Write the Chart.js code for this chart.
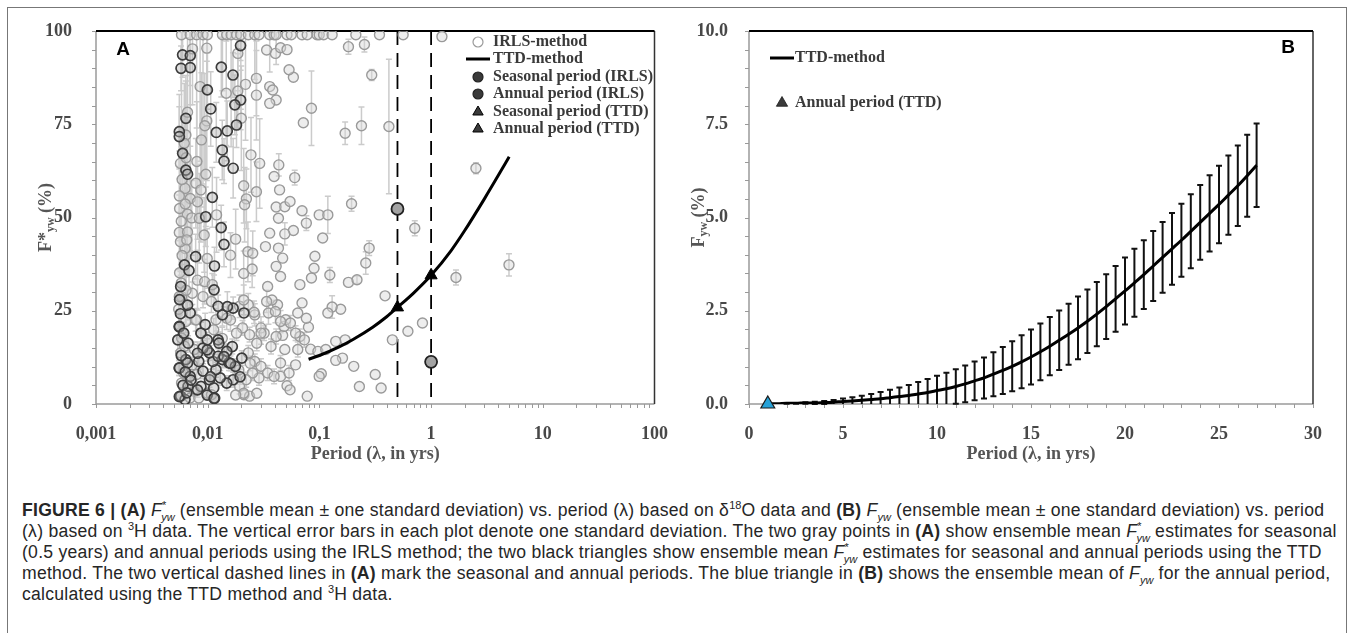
<!DOCTYPE html>
<html>
<head>
<meta charset="utf-8">
<script src="https://cdn.jsdelivr.net/npm/chart.js@4.4.0/dist/chart.umd.min.js"></script>
<style>
body { margin: 0; background: #fff; width: 1355px; height: 633px; overflow: hidden; position: relative; }
#frame { position: absolute; left: 7px; top: 7px; width: 1338px; height: 640px; border: 1.5px solid #777; pointer-events: none; }
canvas { position: absolute; top: 0; }
#chartA { left: 0; }
#chartB { left: 680px; }
#caption { position: absolute; left: 22px; top: 500px; font-family: "Liberation Sans", Arial, sans-serif; font-size: 17.6px; letter-spacing: 0.25px; line-height: 21px; color: #262626; white-space: nowrap; }
#caption sup, #caption sub { font-size: 11px; line-height: 0; letter-spacing: 0; }
</style>
</head>
<body>
<canvas id="chartA" width="680" height="470"></canvas>
<canvas id="chartB" width="675" height="470"></canvas>
<div id="caption">
<div><b>FIGURE 6 | (A)</b> <i>F</i><sup>*</sup><sub style="margin-left:-5px"><i>yw</i></sub> (ensemble mean ± one standard deviation) vs. period (λ) based on δ<sup>18</sup>O data and <b>(B)</b> <i>F<sub>yw</sub></i> (ensemble mean ± one standard deviation) vs. period</div>
<div>(λ) based on <sup>3</sup>H data. The vertical error bars in each plot denote one standard deviation. The two gray points in <b>(A)</b> show ensemble mean <i>F</i><sup>*</sup><sub style="margin-left:-5px"><i>yw</i></sub> estimates for seasonal</div>
<div>(0.5 years) and annual periods using the IRLS method; the two black triangles show ensemble mean <i>F</i><sup>*</sup><sub style="margin-left:-5px"><i>yw</i></sub> estimates for seasonal and annual periods using the TTD</div>
<div>method. The two vertical dashed lines in <b>(A)</b> mark the seasonal and annual periods. The blue triangle in <b>(B)</b> shows the ensemble mean of <i>F<sub>yw</sub></i> for the annual period,</div>
<div>calculated using the TTD method and <sup>3</sup>H data.</div>
</div>
<div id="frame"></div>
<script>
// ---- panel A: F*yw vs period, log x ----
const xTicksA = [0.001, 0.01, 0.1, 1, 10, 100];
const xTickLabelsA = ['0,001', '0,01', '0,1', '1', '10', '100'];
const yTicksA = [0, 25, 50, 75, 100];
const periodMarks = [0.5, 1]; // seasonal and annual period

// IRLS ensemble means: [period (yrs), F*yw (%), sd]
const irlsLight = [
  [0.00583,99,30],[0.00697,99,45],[0.00796,99,25],[0.00908,99,40],[0.00993,99,20],[0.01355,99,15],[0.0148,99,0],
  [0.0162,99,30],[0.01815,99,0],[0.0198,99,20],[0.0231,99,0],[0.0264,99,12],[0.0288,99,0],[0.0359,99,10],
  [0.0393,99,0],[0.041,99,8],[0.0513,99,0],[0.056,99,0],[0.0699,99,0],[0.0778,99,0],[0.0953,99,0],
  [0.0996,99,0],[0.109,99,0],[0.13,99,0],[0.212,99,0],[0.345,99,0],[0.562,99,0],[1.25,98.5,0],
  [0.182,95.8,2],[0.253,96.4,2],[0.294,88.2,1.5],[0.17,72.6,3],[0.238,74.6,5],[0.419,74.4,18],
  [2.52,63.2,1.5],[0.194,53.7,2],[0.714,47.1,2],[0.279,41.8,2],[0.26,37.8,3],[4.98,37.3,3],[1.67,33.9,2],
  [0.182,32.6,0],[0.217,33.3,1],[0.387,29,0],[0.837,21.7,0],[0.62,19.5,0],[0.45,17.2,0],[0.203,10.1,0],
  [0.316,7.9,0],[0.228,4.7,0],[0.357,4.3,0],[0.161,12.3,0],[0.14,11.7,0],[0.17,17.2,0],[0.14,16.8,0],
  [0.155,25.4,0],[0.13,26,3],[0.119,24.4,0],[0.124,34.6,2],[0.0996,50.7,0],[0.119,50.7,5],[0.107,44.5,0],
  [0.0764,48.5,2],[0.0699,51.8,0],[0.0849,79.3,10],[0.0718,75.4,0],[0.0585,87.6,0],[0.0535,89.6,0],
  [0.0601,60.7,2],[0.0585,46.5,0],[0.0912,39.6,0],[0.0895,36.4,0],[0.0849,33.8,0],[0.0669,32,0],
  [0.0798,20.6,0],[0.0764,23,0],[0.0699,27.1,0],[0.064,24.4,0],[0.0834,14.7,0],[0.097,14.1,0],
  [0.114,14.6,0],[0.104,8.1,0],[0.0996,7.4,0],[0.0778,2.1,0],[0.0513,4.9,0],[0.0546,3.8,0],[0.0612,10.5,0],
  [0.049,14.6,0],[0.0449,7.4,0],[0.0469,18.4,0],[0.0482,20.8,0],[0.0499,22.6,0],[0.0422,26.6,0],
  [0.0376,27.9,0],[0.0344,31.5,0],[0.0449,34.2,0],[0.041,36.9,0],[0.0469,39.1,0],[0.043,41.8,0],
  [0.0329,42.2,0],[0.0359,45.8,0],[0.049,45.6,3],[0.043,49.8,0],[0.041,52.8,0],[0.049,52.9,0],
  [0.0546,54.3,0],[0.044,57.4,0],[0.0433,64.1,3],[0.0393,61,0],[0.0359,85.1,0],[0.0382,84.2,0],
  [0.041,81.5,0],[0.0359,80.6,0],[0.0337,94.9,0],[0.0404,94,0],[0.0449,95.5,0],[0.0513,95,0],
  [0.00731,95.2,15],[0.00982,95.4,12],[0.01862,94,10],[0.0273,87.3,10],[0.0273,82.8,12],[0.0218,85.7,15],
  [0.00855,85.1,20],[0.01466,83.3,14],[0.0186,83.9,10],[0.0066,78.2,20],[0.02,76.6,14],[0.00982,75.9,16],
  [0.00942,74.6,14],[0.00638,72.1,16],[0.00617,69.9,16],[0.00879,70.8,18],[0.0244,66.8,10],[0.0292,64.5,12],
  [0.008,65,16],[0.00962,61.6,14],[0.00627,57.8,14],[0.00783,59.2,12],[0.00869,57.4,14],[0.00557,55.8,12],
  [0.00698,55.1,14],[0.00811,54.2,10],[0.021,58.5,10],[0.0222,55,8],[0.0214,53.4,10],[0.0273,56.9,8],
  [0.0066,50.9,12],[0.0072,49.9,10],[0.0084,49.8,12],[0.012,50.7,10],[0.00557,46,10],[0.0066,46.1,12],
  [0.0093,45.3,10],[0.0178,44.2,8],[0.0229,40.8,8],[0.0253,40.4,6],[0.00627,41.7,10],[0.0099,39,8],
  [0.016,39.9,6],[0.021,35,6],[0.025,36.2,5],[0.0081,33.2,8],[0.0094,32.8,6],
  [0.011,32,3],[0.00583,28.8,3],[0.00728,29.7,3],[0.00908,28.8,3],[0.0108,27.5,3],[0.0148,23,3],
  [0.0193,26.2,3],[0.0231,26.6,3],[0.0264,23.9,3],[0.03,20.4,3],[0.0337,27.5,3],[0.035,24.4,3],
  [0.0404,24.8,3],[0.0449,22.1,3],[0.041,18.1,2],[0.0369,15.4,2],[0.032,19,2],[0.0275,16.3,2],
  [0.0237,18.6,2],[0.0205,20.4,2],[0.0181,19,2],[0.0231,13.7,2],[0.0264,11.4,2],[0.03,10.1,2],
  [0.0344,8.3,2],[0.0288,7,2],[0.0252,8.3,2],[0.0221,6.5,2],[0.0193,4.7,2],[0.0211,2.5,0],[0.0237,2.1,0],
  [0.0275,2.9,0],[0.0393,7.4,2],[0.0449,11,2],[0.0535,8.3,2],[0.064,14.6,2],[0.0669,18.1,2],
  [0.0734,17.2,2],[0.0612,19,2],[0.055,21.7,2],[0.0087,19,3],[0.00796,22.6,3],[0.00637,22.1,3],
  [0.00583,17.7,3],[0.0076,14.6,2],[0.00573,13.7,2],[0.00728,10.5,2],[0.0061,8.3,2],[0.00796,7.9,2],
  [0.0099,2.9,0],[0.0076,3.4,0],[0.00583,5.6,0],[0.00697,1.6,0],[0.00832,1.6,0],[0.0108,2.5,0],
  [0.01186,22.6,3],[0.01132,19.9,3],[0.0135,17.6,3],[0.00557,28.8,4],[0.0055,25.4,4],[0.0078,22.5,3],
  [0.0062,15.5,3],[0.019,9.1,2],[0.024,10.9,2],[0.021,2.9,0],[0.0178,2.4,0],[0.016,22.5,3],
  [0.021,27.9,4],[0.026,24.6,3],[0.03,19,3],
  [0.0057,64.5,10],[0.0059,60.2,10],[0.0056,52.4,8],[0.0058,49.0,8],[0.0057,43.5,8],[0.0059,39.8,6],
  [0.0056,35.2,5],[0.0058,32.4,5],[0.0064,66.0,10],[0.0063,53.6,8],[0.0065,44.0,8],[0.0064,30.5,5]
];
const irlsDark = [
  [0.00596,93.6,6],[0.00698,93.4,8],[0.00577,90,6],[0.00698,90.2,10],[0.01324,90.3,8],[0.01683,88.2,6],
  [0.01968,96.1,4],[0.00993,84.2,10],[0.0197,81.5,8],[0.0175,80.2,8],[0.01064,79.1,10],[0.00638,76.6,10],
  [0.0181,74.8,6],[0.01194,72.8,8],[0.01497,73.2,8],[0.00557,73,10],[0.00557,71.7,8],[0.00596,67.2,10],
  [0.0135,68.1,8],[0.014,65.1,6],[0.0169,63.2,8],[0.00638,62.7,10],[0.0066,61.6,8],[0.011,55.4,8],
  [0.0096,50.2,8],[0.0132,47.3,6],[0.014,42.8,6],[0.0078,39.5,6],[0.0062,37.3,6],[0.0068,35.8,5],
  [0.0115,37,5],[0.00573,31.5,3],[0.0124,26.2,3],[0.01355,23.9,3],[0.0169,25.7,3],[0.0211,24.4,3],
  [0.0166,15.4,2],[0.0148,14.1,2],[0.01355,11.9,2],[0.0155,11,2],[0.0177,10.1,2],[0.0202,12.3,2],
  [0.0169,6.5,2],[0.0148,5.6,2],[0.01294,7,2],[0.01186,9.2,2],[0.01114,11.4,2],[0.01038,13.7,2],
  [0.00908,15,2],[0.0099,17.2,2],[0.00949,21.3,3],[0.00697,24.4,3],[0.00557,20.8,3],[0.00667,16.3,2],
  [0.00637,11.9,2],[0.00832,11.4,2],[0.00557,9.6,2],[0.00697,7.4,2],[0.00908,8.8,2],[0.01038,6.5,2],
  [0.01132,4.3,0],[0.0087,4.7,0],[0.00667,4.7,0],[0.00573,2.1,0],[0.00627,1.2,0],[0.01154,1.6,0],
  [0.0124,12.8,2],[0.0124,17.2,2],[0.00557,20.7,3],[0.0054,17.2,3],[0.00557,9.7,2],[0.00557,2,0],
  [0.006,5,2],[0.00708,6.4,2],[0.0081,3.8,2],[0.0099,2.4,0],[0.0114,1.5,0],[0.0106,7.3,2],[0.0126,16.3,3],
  [0.0114,30.6,4],[0.0066,26.5,4],[0.0087,19,3],[0.0099,14.5,3],[0.0066,11,2],[0.0081,13.6,3],
  [0.016,10.9,2],[0.0195,7.3,2],[0.014,12.7,3],[0.015,26.1,4],
  [0.0056,28.0,4],[0.0057,24.2,3],[0.0058,13.0,2],[0.0063,8.6,2],[0.0061,19.0,3],[0.0065,3.0,0]
];

// TTD ensemble mean curve (panel A)
const ttdPeriodA = [0.08, 0.1, 0.15, 0.2, 0.3, 0.4, 0.5, 0.7, 1, 1.5, 2, 3, 4, 5];
const ttdFywA = [12.0, 13.0, 15.3, 17.3, 20.6, 23.4, 25.9, 29.8, 34.5, 41.0, 46.5, 55.0, 61.3, 66.3];

const seasonalIrls = [0.5, 52.3];
const annualIrls = [1, 11.3];
const seasonalTtd = [0.5, 25.9];
const annualTtd = [1, 34.5];

// ---- panel B: Fyw vs period, linear x ----
const yTicksB = [0, 2.5, 5, 7.5, 10];
const periodB = [1,1.5,2,2.5,3,3.5,4,4.5,5,5.5,6,6.5,7,7.5,8,8.5,9,9.5,10,10.5,11,11.5,12,12.5,13,13.5,
  14,14.5,15,15.5,16,16.5,17,17.5,18,18.5,19,19.5,20,20.5,21,21.5,22,22.5,23,23.5,24,24.5,25,25.5,26,26.5,27];
const fywB = [0.01,0.01,0.02,0.02,0.03,0.03,0.04,0.05,0.07,0.08,0.1,0.12,0.14,0.17,0.2,0.23,0.27,0.31,0.36,0.41,
  0.47,0.54,0.62,0.7,0.8,0.9,1.01,1.13,1.26,1.4,1.55,1.71,1.87,2.04,2.22,2.41,2.61,2.82,3.03,3.25,
  3.47,3.7,3.93,4.16,4.39,4.63,4.87,5.11,5.35,5.6,5.85,6.12,6.4];
const sdB = [0,0,0.01,0.01,0.02,0.03,0.04,0.06,0.08,0.1,0.12,0.15,0.18,0.21,0.24,0.28,0.32,0.36,0.4,0.43,
  0.46,0.49,0.52,0.55,0.59,0.63,0.67,0.71,0.74,0.76,0.78,0.8,0.82,0.84,0.85,0.86,0.87,0.88,0.9,0.91,
  0.92,0.94,0.95,0.96,0.98,0.99,1.0,1.02,1.04,1.06,1.08,1.1,1.12];
const annualTtdB = [1, 0];

const SERIF = '"Liberation Serif", "Times New Roman", serif';
const SANS = '"Liberation Sans", Arial, sans-serif';
Chart.defaults.font.family = SERIF;

const pts = arr => arr.map(p => ({ x: p[0], y: p[1] }));

// error bars, dashed period lines, plot box, minor ticks, titles, legend
const panelDecor = {
  id: 'panelDecor',
  beforeDatasetsDraw(chart, args, o) {
    const { ctx, chartArea: a, scales: { x, y } } = chart;
    ctx.save();
    // box
    ctx.lineWidth = 1.5;
    ctx.strokeStyle = '#9a9a9a';
    ctx.beginPath(); ctx.moveTo(a.left, a.top); ctx.lineTo(a.left, a.bottom); ctx.lineTo(a.right, a.bottom); ctx.stroke();
    ctx.strokeStyle = '#333';
    ctx.beginPath(); ctx.moveTo(a.right, a.bottom); ctx.lineTo(a.right, a.top); ctx.stroke();
    ctx.strokeStyle = '#000'; ctx.lineWidth = 2.2;
    ctx.beginPath(); ctx.moveTo(a.left, a.top); ctx.lineTo(a.right, a.top); ctx.stroke();
    // minor ticks
    ctx.strokeStyle = '#999'; ctx.lineWidth = 1;
    (o.xMinor || []).forEach(v => {
      const px = Math.round(x.getPixelForValue(v)) + 0.5;
      ctx.beginPath(); ctx.moveTo(px, a.bottom); ctx.lineTo(px, a.bottom + 4); ctx.stroke();
    });
    (o.yMinor || []).forEach(v => {
      const py = Math.round(y.getPixelForValue(v)) + 0.5;
      ctx.beginPath(); ctx.moveTo(a.left - 4, py); ctx.lineTo(a.left, py); ctx.stroke();
    });
    // dashed period lines
    ctx.strokeStyle = '#000'; ctx.lineWidth = 1.8; ctx.setLineDash([14, 8]);
    (o.dashed || []).forEach(v => {
      const px = x.getPixelForValue(v);
      ctx.beginPath(); ctx.moveTo(px, a.top); ctx.lineTo(px, a.bottom); ctx.stroke();
    });
    ctx.setLineDash([]);
    // error bars
    chart.data.datasets.forEach(ds => {
      if (!ds.sd) return;
      ctx.strokeStyle = ds.errColor; ctx.lineWidth = ds.errWidth;
      ds.data.forEach((p, i) => {
        const s = ds.sd[i];
        if (!s) return;
        const px = x.getPixelForValue(p.x);
        const t = y.getPixelForValue(p.y + s), b = y.getPixelForValue(p.y - s);
        const top = Math.max(t, a.top), bot = Math.min(b, a.bottom);
        ctx.beginPath(); ctx.moveTo(px, top); ctx.lineTo(px, bot);
        if (t >= a.top) { ctx.moveTo(px - 3, t); ctx.lineTo(px + 3, t); }
        if (b <= a.bottom) { ctx.moveTo(px - 3, b); ctx.lineTo(px + 3, b); }
        ctx.stroke();
      });
    });
    ctx.restore();
  },
  afterDraw(chart, args, o) {
    const { ctx, chartArea: a } = chart;
    ctx.save();
    ctx.textBaseline = 'middle';
    // panel letter
    ctx.fillStyle = '#000';
    ctx.font = 'bold 19px ' + SANS;
    ctx.textAlign = 'center';
    ctx.fillText(o.letter[0], o.letter[1], o.letter[2]);
    // x title
    ctx.fillStyle = '#555';
    ctx.font = 'bold 18px ' + SERIF;
    ctx.fillText('Period (λ, in yrs)', (a.left + a.right) / 2, 454);
    // y title, rotated, with subscript
    const big = 'bold 18px ' + SERIF, small = 'bold 12px ' + SERIF;
    const parts = [[o.yMain, big, 0], ['yw', small, 5], [' (%)', big, 0]];
    let w = 0;
    parts.forEach(p => { ctx.font = p[1]; w += ctx.measureText(p[0]).width; });
    ctx.translate(o.yTitleX, (a.top + a.bottom) / 2);
    ctx.rotate(-Math.PI / 2);
    ctx.textAlign = 'left';
    let cx = -w / 2;
    parts.forEach(p => { ctx.font = p[1]; ctx.fillText(p[0], cx, p[2]); cx += ctx.measureText(p[0]).width; });
    ctx.setTransform(1, 0, 0, 1, 0, 0);
    // legend
    ctx.font = 'bold 16px ' + SERIF;
    ctx.textAlign = 'left';
    o.legend.forEach(item => {
      const ds = chart.data.datasets[item.ds];
      ctx.fillStyle = '#3a3a3a';
      ctx.fillText(ds.label, o.legendTextX, item.y);
      if (ds.showLine) {
        ctx.strokeStyle = '#000'; ctx.lineWidth = 3;
        ctx.beginPath(); ctx.moveTo(item.x - 12, item.y); ctx.lineTo(item.x + 12, item.y); ctx.stroke();
      } else {
        ctx.fillStyle = item.fill || ds.pointBackgroundColor;
        ctx.strokeStyle = ds.pointBorderColor;
        ctx.lineWidth = item.bw;
        Chart.helpers.drawPoint(ctx, { pointStyle: ds.pointStyle, rotation: 0, radius: item.r, borderWidth: item.bw }, item.x, item.y);
      }
    });
    ctx.restore();
  }
};

const tickFont = { family: SERIF, size: 18, weight: 'bold' };

// minor tick positions
const logMinor = [];
xTicksA.slice(0, -1).forEach(d => { for (let k = 1; k < 10; k++) logMinor.push(d * k); });
const linMinorYA = [];
for (let v = 0; v <= 100; v += 5) linMinorYA.push(v);
const linMinorX = [], linMinorY = [];
for (let v = 0; v <= 30; v++) linMinorX.push(v);
for (let v = 0; v <= 10; v += 0.5) linMinorY.push(v);

new Chart(document.getElementById('chartA'), {
  type: 'scatter',
  data: {
    datasets: [
      { label: 'IRLS-method', data: pts(irlsLight), sd: irlsLight.map(p => p[2]), errColor: '#cbcbcb', errWidth: 1.5,
        pointRadius: 5, pointBackgroundColor: 'rgba(214,214,214,0.45)', pointBorderColor: '#9a9a9a', pointBorderWidth: 1.4, order: 6 },
      { label: '', data: pts(irlsDark), sd: irlsDark.map(p => p[2]), errColor: '#cbcbcb', errWidth: 1.5,
        pointRadius: 5, pointBackgroundColor: 'rgba(175,175,175,0.4)', pointBorderColor: '#3c3c3c', pointBorderWidth: 1.7, order: 5 },
      { label: 'TTD-method', data: ttdPeriodA.map((v, i) => ({ x: v, y: ttdFywA[i] })), showLine: true,
        borderColor: '#000', borderWidth: 3, pointRadius: 0, cubicInterpolationMode: 'monotone', order: 4 },
      { label: 'Seasonal period (IRLS)', data: [{ x: seasonalIrls[0], y: seasonalIrls[1] }],
        pointRadius: 6, pointBackgroundColor: '#a3a3a3', pointBorderColor: '#222', pointBorderWidth: 1.8, order: 1 },
      { label: 'Annual period (IRLS)', data: [{ x: annualIrls[0], y: annualIrls[1] }],
        pointRadius: 6, pointBackgroundColor: '#a3a3a3', pointBorderColor: '#222', pointBorderWidth: 1.8, order: 1 },
      { label: 'Seasonal period (TTD)', data: [{ x: seasonalTtd[0], y: seasonalTtd[1] }], pointStyle: 'triangle',
        pointRadius: 7, pointBackgroundColor: '#000', pointBorderColor: '#000', pointBorderWidth: 1, order: 2 },
      { label: 'Annual period (TTD)', data: [{ x: annualTtd[0], y: annualTtd[1] }], pointStyle: 'triangle',
        pointRadius: 7, pointBackgroundColor: '#000', pointBorderColor: '#000', pointBorderWidth: 1, order: 2 }
    ]
  },
  options: {
    responsive: false, animation: false, devicePixelRatio: 1,
    layout: { padding: { left: 0, top: 31, right: 21, bottom: 0 } },
    plugins: {
      legend: { display: false }, tooltip: { enabled: false },
      panelDecor: {
        letter: ['A', 123, 50], yMain: 'F*', yTitleX: 46, xMinor: logMinor, yMinor: linMinorYA, dashed: periodMarks,
        legendTextX: 493,
        legend: [
          { ds: 0, x: 478, y: 42, r: 5, bw: 1.2, fill: '#fff' },
          { ds: 2, x: 478, y: 59 },
          { ds: 3, x: 478, y: 77, r: 5, bw: 1.2 },
          { ds: 4, x: 478, y: 94, r: 5, bw: 1.2 },
          { ds: 5, x: 478, y: 112, r: 6, bw: 1 },
          { ds: 6, x: 478, y: 129, r: 6, bw: 1 }
        ]
      }
    },
    scales: {
      x: {
        type: 'logarithmic', min: 0.001, max: 100,
        afterBuildTicks: s => { s.ticks = xTicksA.map(v => ({ value: v })); },
        afterFit: s => { s.height = 66; },
        grid: { display: false }, border: { display: false },
        ticks: { autoSkip: false, maxRotation: 0, padding: 12, color: '#484848', font: tickFont,
          callback: (v, i) => xTickLabelsA[i] }
      },
      y: {
        min: 0, max: 100,
        afterBuildTicks: s => { s.ticks = yTicksA.map(v => ({ value: v })); },
        afterFit: s => { s.width = 96; },
        grid: { display: false }, border: { display: false },
        ticks: { padding: 16, color: '#484848', font: tickFont }
      }
    }
  },
  plugins: [panelDecor]
});

new Chart(document.getElementById('chartB'), {
  type: 'scatter',
  data: {
    datasets: [
      { label: 'TTD-method', data: periodB.map((v, i) => ({ x: v, y: fywB[i] })), sd: sdB, errColor: '#111', errWidth: 2,
        showLine: true, borderColor: '#000', borderWidth: 3, pointRadius: 0, cubicInterpolationMode: 'monotone', order: 2 },
      { label: 'Annual period (TTD)', data: [{ x: annualTtdB[0], y: annualTtdB[1] }], pointStyle: 'triangle',
        pointRadius: 8, pointBackgroundColor: '#27a2d8', pointBorderColor: '#1b1b1b', pointBorderWidth: 1.2, clip: false, order: 1 }
    ]
  },
  options: {
    responsive: false, animation: false, devicePixelRatio: 1,
    layout: { padding: { left: 0, top: 31, right: 42, bottom: 0 } },
    plugins: {
      legend: { display: false }, tooltip: { enabled: false },
      panelDecor: {
        letter: ['B', 608, 48], yMain: 'F', yTitleX: 19, xMinor: linMinorX, yMinor: linMinorY,
        legendTextX: 115,
        legend: [
          { ds: 0, x: 102, y: 58 },
          { ds: 1, x: 102, y: 103, r: 6.5, bw: 0.8 }
        ]
      }
    },
    scales: {
      x: {
        min: 0, max: 30,
        ticks: { stepSize: 5, padding: 12, color: '#484848', font: tickFont, maxRotation: 0 },
        afterFit: s => { s.height = 66; },
        grid: { display: false }, border: { display: false }
      },
      y: {
        min: 0, max: 10,
        afterBuildTicks: s => { s.ticks = yTicksB.map(v => ({ value: v })); },
        afterFit: s => { s.width = 69; },
        grid: { display: false }, border: { display: false },
        ticks: { padding: 13, color: '#484848', font: tickFont, callback: v => v.toFixed(1) }
      }
    }
  },
  plugins: [panelDecor]
});
</script>
</body>
</html>
